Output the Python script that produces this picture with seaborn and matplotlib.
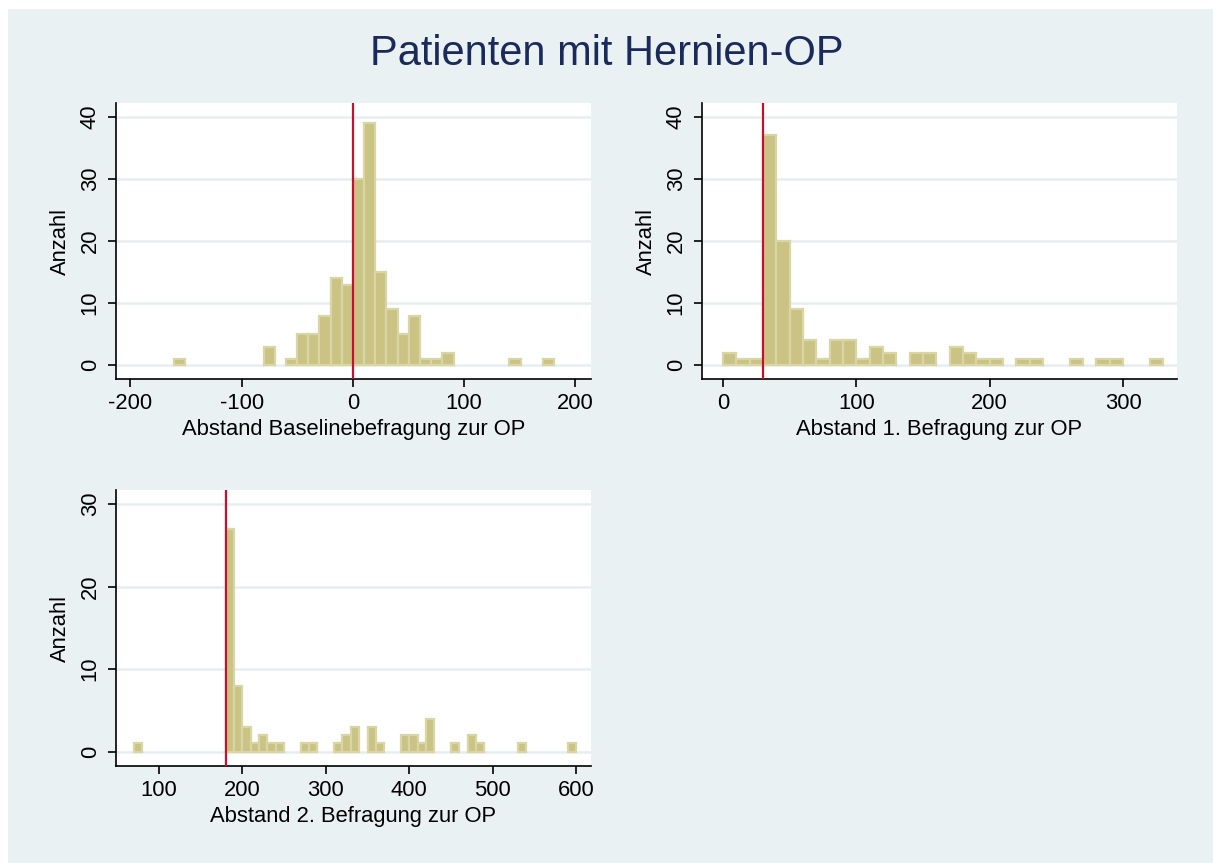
import numpy as np
import pandas as pd
import matplotlib
matplotlib.use("Agg")
import matplotlib.pyplot as plt
from matplotlib.patches import Rectangle
import seaborn as sns

# ---------------- data ----------------
title = "Patienten mit Hernien-OP"
ylabel = "Anzahl"

p1_label = "Abstand Baselinebefragung zur OP"
p1_start = -160.8
p1_width = 10.05
p1_counts = [1, 0, 0, 0, 0, 0, 0, 0, 3, 0, 1, 5, 5, 8, 14, 13, 30, 39, 15, 9,
             5, 8, 1, 1, 2, 0, 0, 0, 0, 0, 1, 0, 0, 1]
p1_ref = 0
p1_xticks = [-200, -100, 0, 100, 200]
p1_yticks = [0, 10, 20, 30, 40]

p2_label = "Abstand 1. Befragung zur OP"
p2_start = 0
p2_width = 10
p2_counts = [2, 1, 1, 37, 20, 9, 4, 1, 4, 4, 1, 3, 2, 0, 2, 2, 0, 3, 2, 1,
             1, 0, 1, 1, 0, 0, 1, 0, 1, 1, 0, 0, 1]
p2_ref = 30
p2_xticks = [0, 100, 200, 300]
p2_yticks = [0, 10, 20, 30, 40]

p3_label = "Abstand 2. Befragung zur OP"
p3_start = 70
p3_width = 10
p3_counts = [1, 0, 0, 0, 0, 0, 0, 0, 0, 0, 0, 27, 8, 3, 1, 2, 1, 1, 0, 0,
             1, 1, 0, 0, 1, 2, 3, 0, 3, 1, 0, 0, 2, 2, 1, 4, 0, 0, 1, 0,
             2, 1, 0, 0, 0, 0, 1, 0, 0, 0, 0, 0, 1]
p3_ref = 180
p3_xticks = [100, 200, 300, 400, 500, 600]
p3_yticks = [0, 10, 20, 30]

# ---------------- style ----------------
BG = "#EAF1F3"
GRID = "#E6EEF0"
BAR_FACE = "#CBC384"
BAR_EDGE = "#DAD5A4"
REF = "#C8102E"
TITLE_C = "#1A2A5A"

sns.set_theme(style="white")
plt.rcParams["font.family"] = ["Liberation Sans", "DejaVu Sans"]
plt.rcParams["axes.unicode_minus"] = False

W, H = 1213, 863
fig = plt.figure(figsize=(W / 100, H / 100), dpi=100)
fig.patch.set_facecolor("white")
fig.add_artist(Rectangle((8 / W, 0), 1 - 8 / W, 1 - 9 / H, transform=fig.transFigure,
                         facecolor=BG, edgecolor="none", zorder=-5))

def px_axes(left, top, right, bottom):
    return fig.add_axes([left / W, 1 - bottom / H, (right - left) / W, (bottom - top) / H])

panels = [
    (px_axes(116, 103, 591, 379), p1_start, p1_width, p1_counts, p1_ref, p1_label,
     p1_xticks, p1_yticks, (-213, 214), (-2.2, 42.2)),
    (px_axes(702, 103, 1177, 379), p2_start, p2_width, p2_counts, p2_ref, p2_label,
     p2_xticks, p2_yticks, (-15.8, 340.5), (-2.2, 42.2)),
    (px_axes(116, 490, 591, 766), p3_start, p3_width, p3_counts, p3_ref, p3_label,
     p3_xticks, p3_yticks, (48.4, 618), (-1.73, 31.7)),
]

for ax, start, width, counts, ref, xlabel, xt, yt, xl, yl in panels:
    counts = np.asarray(counts, dtype=float)
    n = len(counts)
    centers = start + width * (np.arange(n) + 0.5)
    df = pd.DataFrame({"x": centers, "w": counts})
    sns.histplot(data=df, x="x", weights="w", binwidth=width,
                 binrange=(start, start + n * width), ax=ax, stat="count",
                 color=BAR_FACE, edgecolor=BAR_EDGE, linewidth=1.6, alpha=1, zorder=3)
    for p in ax.patches:
        if p.get_height() == 0:
            p.set_visible(False)
    ax.axvline(ref, color=REF, lw=1.6, zorder=4)

    ax.set_facecolor("white")
    ax.set_xlim(*xl)
    ax.set_ylim(*yl)
    ax.set_xticks(xt)
    ax.set_yticks(yt)
    ax.yaxis.grid(True, color=GRID, lw=1.8, zorder=0)
    ax.xaxis.grid(False)
    ax.set_axisbelow(True)
    for s in ["top", "right"]:
        ax.spines[s].set_visible(False)
    for s in ["left", "bottom"]:
        ax.spines[s].set_color("black")
        ax.spines[s].set_linewidth(1.2)
    ax.tick_params(axis="both", direction="out", length=6, width=1.2, color="black",
                   labelsize=15.8, labelcolor="black", bottom=True, left=True)
    ax.tick_params(axis="x", pad=4)
    ax.tick_params(axis="y", pad=5)
    plt.setp(ax.get_yticklabels(), rotation=90, va="center")
    ax.set_xlabel(xlabel, fontsize=15.8, color="black", labelpad=4)
    ax.set_ylabel(ylabel, fontsize=15.8, color="black", labelpad=6)

fig.text(0.5, 1 - 65 / H, title, ha="center", va="baseline", fontsize=30, color=TITLE_C)

fig.savefig("out.png", dpi=100, facecolor=fig.get_facecolor())
